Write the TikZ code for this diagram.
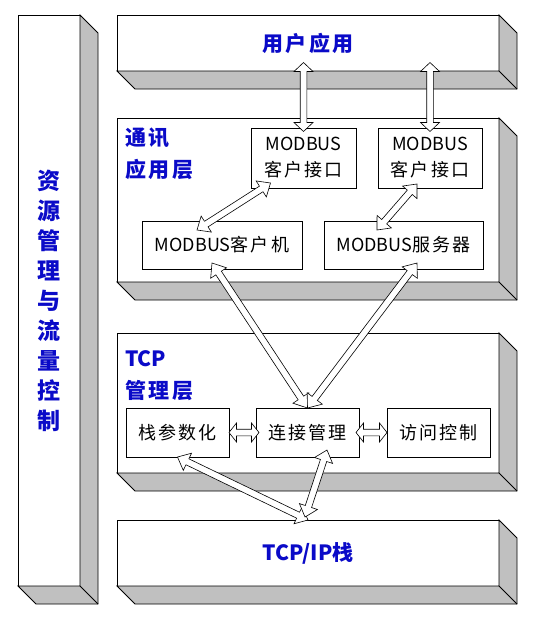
\documentclass[tikz,border=0pt]{standalone}
\usepackage{fontspec}
\newfontfamily\cjk{Noto Sans CJK SC}
\newfontfamily\cjksp[LetterSpace=12]{Noto Sans CJK SC}
\usetikzlibrary{calc}

\definecolor{layerblue}{RGB}{10,10,200}
\definecolor{depthgray}{RGB}{192,192,192}

\tikzset{
    layer/.style={draw, fill=white, line width=0.8pt, minimum width=382pt, inner sep=0pt, outer sep=0pt},
    unit/.style={draw, fill=white, line width=0.7pt, inner sep=0pt, outer sep=0pt, align=center, font=\cjksp\fontsize{18}{26}\selectfont},
    title/.style={text=layerblue, inner sep=0pt, align=left, font=\cjksp\bfseries\fontsize{21}{32}\selectfont},
    depth/.style={draw, fill=depthgray, line width=0.8pt, line join=miter},
    hollow/.style={draw, fill=white, line width=0.6pt, line join=miter}
}

% grey side and bottom faces of a layer
\newcommand{\depthof}[1]{%
    \filldraw[depth] (#1.north east) -- ++(18,18) -- ($(#1.south east)+(18,18)$)
        -- ($(#1.south west)+(18,18)$) -- (#1.south west) -- (#1.south east) -- cycle;
    \draw[line width=0.8pt] (#1.south east) -- ++(18,18);}

% hollow two-way arrow, [head length]{from}{to}
\newcommand{\twoway}[3][11pt]{%
    \filldraw[hollow] (#2)
        -- ($(#2)!#1!(#3)!9.5pt!90:(#3)$) -- ($(#2)!#1!(#3)!3.3pt!90:(#3)$)
        -- ($(#3)!#1!(#2)!3.3pt!-90:(#2)$) -- ($(#3)!#1!(#2)!9.5pt!-90:(#2)$)
        -- (#3)
        -- ($(#3)!#1!(#2)!9.5pt!90:(#2)$) -- ($(#3)!#1!(#2)!3.3pt!90:(#2)$)
        -- ($(#2)!#1!(#3)!3.3pt!-90:(#3)$) -- ($(#2)!#1!(#3)!9.5pt!-90:(#3)$)
        -- cycle;}

\begin{document}
\begin{tikzpicture}[x=1pt, y=-1pt]
    \useasboundingbox (0,0) rectangle (540,618);

    % layers
    \node[layer, minimum width=62pt, minimum height=571pt, title, align=center,
          font=\cjk\bfseries\fontsize{23}{30}\selectfont] (side) at (49,300.5)
          {资\\源\\管\\理\\与\\流\\量\\控\\制};
    \node[layer, minimum height=56pt, title] (app) at (308,43) {用户应用};
    \node[layer, minimum height=164pt] (comm) at (308,200) {};
    \node[layer, minimum height=140pt] (tcpm) at (308,403) {};
    \node[layer, minimum height=66pt, title] (tcpip) at (308,553) {{\cjk TCP/IP}栈};

    \depthof{side}
    \depthof{app}
    \depthof{comm}
    \depthof{tcpm}
    \depthof{tcpip}

    \node[title, anchor=north west] (commname) at (125,128) {通讯\\应用层};
    \node[title, anchor=north west] (tcpmname) at (125,350) {{\cjk TCP}\\管理层};

    % units
    \node[unit, minimum width=105pt, minimum height=60pt] (cif1) at (303.5,158) {{\cjk MODBUS}\\客户接口};
    \node[unit, minimum width=104pt, minimum height=60pt] (cif2) at (430,158) {{\cjk MODBUS}\\客户接口};
    \node[unit, minimum width=160pt, minimum height=48pt] (client) at (222,245) {{\cjk MODBUS}客户机};
    \node[unit, minimum width=159pt, minimum height=48pt] (server) at (403.5,245) {{\cjk MODBUS}服务器};
    \node[unit, minimum width=103pt, minimum height=49pt] (stack) at (177.5,432.5) {栈参数化};
    \node[unit, minimum width=103pt, minimum height=49pt] (conn) at (307.5,432.5) {连接管理};
    \node[unit, minimum width=103pt, minimum height=49pt] (acc) at (438.5,432.5) {访问控制};

    % arrow ends
    \coordinate (up1) at ($(cif1.north |- app.south)+(0,-8.5)$);
    \coordinate (dn1) at ($(cif1.north)+(0,3.5)$);
    \coordinate (up2) at ($(cif2.north |- app.south)+(0,-8.5)$);
    \coordinate (dn2) at ($(cif2.north)+(0,3.5)$);
    \coordinate (cif1low) at (270.5,183);
    \coordinate (clienthi) at (197,230);
    \coordinate (cif2low) at (417,184);
    \coordinate (serverhi) at (377,230);
    \coordinate (clientlow) at (212,263);
    \coordinate (serverlow) at (417,263);
    \coordinate (connleft) at ($(conn.west)+(3,0)$);
    \coordinate (connright) at ($(conn.east)+(-3,0)$);
    \coordinate (connlow) at (327,450);
    \coordinate (tcpiphi) at (305,517);

    % arrows
    \twoway[9pt]{up1}{dn1}
    \twoway[9pt]{up2}{dn2}
    \twoway{cif1low}{clienthi}
    \twoway{cif2low}{serverhi}
    \twoway[12pt]{clientlow}{conn.north}
    \twoway[12pt]{serverlow}{conn.north}
    \twoway[7.5pt]{stack.east}{connleft}
    \twoway[7.5pt]{connright}{acc.west}
    \twoway{stack.south}{tcpip.north}
    \twoway{connlow}{tcpiphi}
\end{tikzpicture}
\end{document}
